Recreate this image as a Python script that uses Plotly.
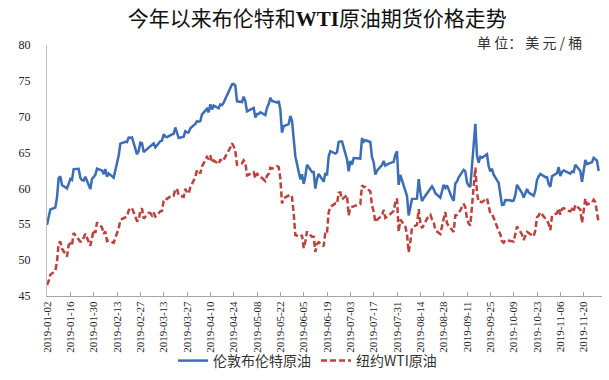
import pandas as pd
import plotly.graph_objects as go

# ---- data (daily settlements) ----
start_date = "2019-01-02"
end_date = "2019-11-29"

brent_jan = [54.91, 55.95, 57.06, 57.33, 58.72, 61.44, 61.68, 60.48, 59.99, 60.64, 61.32,
             61.18, 62.70, 62.74, 61.50, 61.14, 61.09, 61.64, 59.93, 61.32, 61.65, 61.89]
brent_feb = [62.75, 62.51, 61.98, 62.69, 61.63, 62.10, 61.51, 62.42, 63.61, 64.57, 66.25,
             66.50, 66.45, 67.08, 67.07, 67.12, 64.76, 65.21, 66.39, 66.31]
brent_mar = [65.07, 65.67, 65.86, 65.99, 66.30, 65.74, 66.58, 66.67, 67.55, 67.23, 67.16,
             67.54, 67.61, 68.50, 67.86, 67.03, 67.21, 67.97, 67.83, 67.82, 68.39]
brent_apr = [69.01, 69.37, 69.31, 69.40, 70.34, 71.10, 70.61, 71.73, 71.02, 71.55, 71.18,
             71.72, 71.62, 71.97, None, 74.04, 74.51, 74.57, 74.35, 72.15, 72.04, 72.80]
brent_may = [72.18, 70.75, 70.85, 71.24, 69.88, 70.37, 70.39, 70.62, 70.23, 71.24, 71.77,
             72.62, 72.21, 71.97, 72.18, 70.99, 67.76, 68.69, 68.97, 70.11, 69.45, 66.87, 64.49]
brent_jun = [61.28, 61.97, 60.63, 61.67, 63.29, 62.29, 62.29, 59.97, 61.31, 62.01, 60.94,
             62.14, 61.82, 64.45, 65.20, 64.86, 65.05, 66.49, 66.55, 66.55]
brent_jul = [64.06, 62.40, 63.82, 63.30, 64.23, 64.11, 64.16, 67.01, 66.52, 66.72, 66.48,
             64.35, 63.66, 61.93, 62.47, 63.26, 63.83, 63.18, 63.39, 63.46, 63.71, 64.72, 65.17]
brent_aug = [60.50, 61.89, 59.81, 58.94, 56.23, 57.38, 58.53, 58.57, 61.30, 59.48, 58.23,
             58.64, 59.74, 60.03, 60.30, 59.92, 59.34, 58.70, 59.51, 60.49, 60.08, 60.43]
brent_sep = [58.66, 58.26, 60.70, 60.95, 61.54, 62.59, 62.38, 60.81, 60.38, 60.22, 69.02,
             64.55, 63.60, 64.40, 64.28, 64.77, 63.10, 62.39, 62.74, 61.91, 60.78]
brent_oct = [58.89, 57.69, 57.71, 58.37, 58.35, 58.24, 58.32, 59.10, 60.51, 59.35, 58.74,
             59.42, 59.91, 59.42, 58.96, 59.70, 61.17, 61.67, 62.02, 61.57, 61.59, 60.61, 60.23]
brent_nov = [61.69, 62.13, 62.96, 61.74, 62.29, 62.51, 62.18, 62.06, 62.37, 62.28, 63.30,
             62.44, 60.91, 62.40, 63.97, 63.39, 63.65, 64.27, 64.06, 63.87, 62.43]

wti_jan = [46.54, 47.09, 47.96, 48.52, 49.78, 52.36, 52.59, 51.59, 50.51, 52.11, 52.31,
           52.07, 53.80, None, 52.57, 52.62, 53.13, 53.69, 51.99, 53.31, 54.23, 53.79]
wti_feb = [55.26, 54.56, 53.66, 54.01, 52.64, 52.72, 52.41, 53.10, 53.90, 54.41, 55.59,
           None, 56.09, 56.92, 57.26, 57.26, 55.48, 55.50, 56.94, 57.22]
wti_mar = [55.80, 56.59, 56.56, 56.22, 56.66, 56.07, 56.79, 56.87, 58.26, 58.61, 58.52,
           59.09, 59.03, 59.83, 59.98, 59.04, 58.82, 59.94, 59.41, 59.30, 60.14]
wti_apr = [61.59, 62.58, 62.46, 62.10, 63.08, 64.40, 64.05, 64.61, 63.58, 63.89, 63.40,
           64.05, 63.76, 64.00, None, 65.70, 66.30, 65.89, 65.21, 63.30, 63.50, 63.91]
wti_may = [63.60, 61.81, 61.94, 62.25, 61.40, 62.12, 61.70, 61.66, 61.04, 61.78, 62.02,
           62.87, 62.76, 63.10, 62.99, 61.42, 57.91, 58.63, None, 59.14, 58.81, 56.59, 53.50]
wti_jun = [53.25, 53.48, 51.68, 52.59, 53.99, 53.26, 53.27, 51.14, 52.28, 52.51, 51.93,
           53.90, 53.76, 56.65, 57.43, 57.90, 57.83, 59.38, 59.43, 58.47]
wti_jul = [59.09, 56.25, 57.34, None, 57.51, 57.66, 57.83, 60.43, 60.20, 60.21, 59.58,
           57.62, 56.78, 55.30, 55.63, 56.22, 57.00, 55.88, 56.02, 56.20, 56.87, 58.05, 58.58]
wti_aug = [53.95, 55.66, 54.69, 53.63, 51.09, 52.54, 54.50, 54.93, 57.10, 55.23, 54.47,
           54.87, 56.21, 56.34, 55.68, 55.35, 54.17, 53.64, 54.93, 55.78, 56.71, 55.10]
wti_sep = [None, 53.94, 56.26, 56.30, 56.52, 57.85, 57.40, 55.75, 55.09, 54.85, 62.90,
           59.34, 58.11, 58.13, 58.09, 58.64, 57.29, 56.49, 56.41, 55.91, 54.07]
wti_oct = [53.62, 52.64, 52.45, 52.81, 52.75, 52.63, 52.59, 53.55, 54.70, 53.59, 52.81,
           53.36, 53.93, 53.78, 53.31, 54.16, 55.97, 56.23, 56.66, 55.81, 55.54, 55.06, 54.18]
wti_nov = [56.20, 56.54, 57.23, 56.35, 57.15, 57.24, 56.86, 56.80, 57.12, 56.77, 57.72,
           57.05, 55.21, 57.11, 58.58, 57.77, 58.01, 58.41, 58.11, None, 55.17]

tick_labels = ["2019-01-02", "2019-01-16", "2019-01-30", "2019-02-13", "2019-02-27",
               "2019-03-13", "2019-03-27", "2019-04-10", "2019-04-24", "2019-05-08",
               "2019-05-22", "2019-06-05", "2019-06-19", "2019-07-03", "2019-07-17",
               "2019-07-31", "2019-08-14", "2019-08-28", "2019-09-11", "2019-09-25",
               "2019-10-09", "2019-10-23", "2019-11-06", "2019-11-20"]

name_brent = "伦敦布伦特原油"
name_wti = "纽约WTI原油"
title_text = "今年以来布伦特和<b>WTI</b>原油期货价格走势"
unit_text = "单 位： 美 元 / 桶"

# ---- build ----
dates = pd.bdate_range(start_date, end_date)
brent = (brent_jan + brent_feb + brent_mar + brent_apr + brent_may + brent_jun +
         brent_jul + brent_aug + brent_sep + brent_oct + brent_nov)
wti = (wti_jan + wti_feb + wti_mar + wti_apr + wti_may + wti_jun +
       wti_jul + wti_aug + wti_sep + wti_oct + wti_nov)
assert len(brent) == len(dates) and len(wti) == len(dates)

serif_cjk = "Liberation Serif, Noto Sans CJK SC, serif"
cjk = "Noto Sans CJK SC, sans-serif"

fig = go.Figure()
fig.add_trace(go.Scatter(x=dates, y=brent, name=name_brent, mode="lines",
                         connectgaps=True,
                         line=dict(color="#3C6EB7", width=2.5)))
fig.add_trace(go.Scatter(x=dates, y=wti, name=name_wti, mode="lines",
                         connectgaps=True,
                         line=dict(color="#C0403C", width=2.5, dash="6px,3px")))

fig.update_layout(
    width=609, height=380,
    margin=dict(l=47, r=7, t=45, b=84, autoexpand=False),
    paper_bgcolor="white", plot_bgcolor="white",
    title=dict(text=title_text, x=0.521, xanchor="center", xref="container",
               y=0.952, yanchor="middle", yref="container",
               font=dict(family=serif_cjk, size=21, color="#111")),
    legend=dict(orientation="h", xref="container", yref="container",
                x=0.505, xanchor="center", y=0.05, yanchor="middle",
                font=dict(family=cjk, size=14, color="#333"),
                bgcolor="rgba(0,0,0,0)", itemwidth=30),
    showlegend=True,
)

fig.update_xaxes(
    type="date", range=["2019-01-02", "2019-12-01"], automargin=False,
    tickvals=tick_labels, ticktext=tick_labels, tickangle=-90,
    ticks="inside", ticklen=4, tickcolor="#A6A6A6",
    showline=True, linecolor="#A6A6A6", linewidth=1,
    showgrid=False, zeroline=False,
    tickfont=dict(family="Liberation Serif, serif", size=11, color="#222"),
)
fig.update_yaxes(
    range=[45, 80], dtick=5, tick0=45, automargin=False,
    showline=True, linecolor="#BFBFBF", linewidth=1,
    showgrid=False, zeroline=False, ticks="",
    ticklabelstandoff=13,
    tickfont=dict(family="Liberation Serif, serif", size=12, color="#222"),
)

fig.add_annotation(text=unit_text, xref="paper", yref="paper",
                   x=0.968, xanchor="right", y=1.012, yanchor="middle",
                   showarrow=False,
                   font=dict(family=cjk, size=14, color="#333"))

fig.write_html("out.html", config={"displayModeBar": False},
               post_script="document.body.style.margin='0';document.body.style.padding='0';")
